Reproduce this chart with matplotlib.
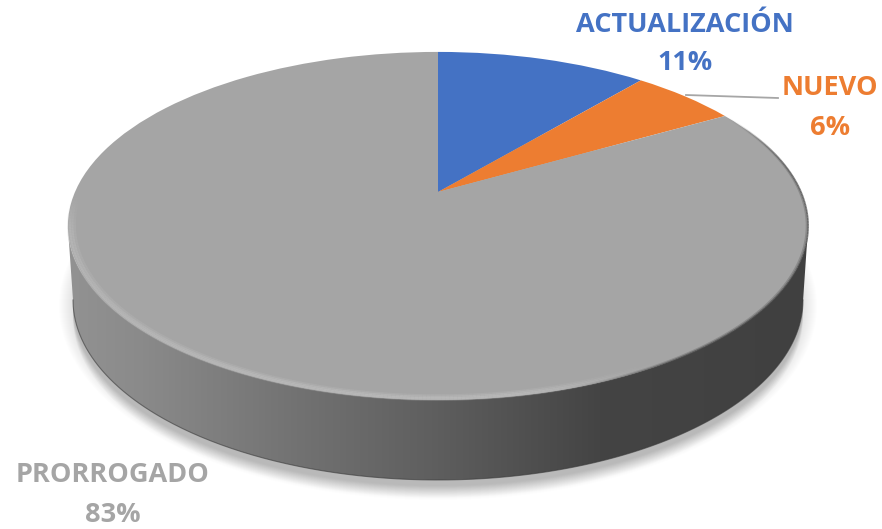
import numpy as np
import matplotlib
matplotlib.use("Agg")
import matplotlib.pyplot as plt
from matplotlib.transforms import Transform
from matplotlib.patches import PathPatch
from matplotlib.path import Path
from matplotlib.collections import LineCollection
from matplotlib.colors import LinearSegmentedColormap

categories = ["ACTUALIZACIÓN", "NUEVO", "PRORROGADO"]
values = [11.1, 5.6, 83.3]
colors = ["#4472C4", "#ED7D31", "#A5A5A5"]

plt.rcParams['font.family'] = ['Open Sans', 'DejaVu Sans']
W, H = 882, 529
fig = plt.figure(figsize=(W / 100, H / 100), dpi=100)
ax = fig.add_axes([0, 0, 1, 1])

# perspective of the pie's top face, in picture coordinates
CX, CY, K, A, B = 438, 192, 0.195, 363, 167.4


class Persp(Transform):
    input_dims = output_dims = 2
    is_separable = False
    has_inverse = False

    def __init__(self, shrink=1.0):
        super().__init__()
        self.s = shrink

    def transform_non_affine(self, pts):
        pts = np.asarray(pts, float) * self.s
        d = 1 + K * pts[:, 1]
        return np.column_stack([CX + A * pts[:, 0] / d, CY - B * pts[:, 1] / d])


def smooth(v, a, b):
    s = np.clip((v - a) / (b - a), 0, 1)
    return s * s * (3 - 2 * s)


t = np.linspace(0, 2 * np.pi, 721)
unit = np.column_stack([np.cos(t), np.sin(t)])
top_edge = Persp().transform_non_affine(unit)

# lower ellipse of the side wall
BX, BY, BA, BB = 438, 300, 365, 180
low = np.column_stack([BX + BA * np.cos(t), BY + BB * np.sin(t)])

# soft shadow
for i in range(1, 15):
    ax.fill(low[:, 0], low[:, 1] + 5 + i * 0.9, color="#000000", alpha=0.012, lw=0, zorder=0)
    ax.fill(BX + (BA + i) * np.cos(t), BY + 6 + (BB + i) * np.sin(t), color="#000000",
            alpha=0.008, lw=0, zorder=0)

# side wall with horizontal gradient
lowpts = low[(t <= np.pi)]
lowpts = lowpts[lowpts[:, 1] >= 236]
upper = top_edge[top_edge[:, 1] >= 226]
upper = upper[np.argsort(upper[:, 0])]
sil = np.vstack([upper, lowpts])
sil_patch = PathPatch(Path(np.vstack([sil, sil[:1]])), fc="none", ec="none", zorder=1)
ax.add_patch(sil_patch)
cmap = LinearSegmentedColormap.from_list("side", [
    (0.00, "#929292"), (0.10, "#8a8a8a"), (0.30, "#737373"), (0.50, "#5e5e5e"),
    (0.72, "#444444"), (1.00, "#404040")])
im = ax.imshow(np.linspace(0, 1, 512)[None, :], cmap=cmap, extent=[68, 808, 490, 220],
               aspect="auto", zorder=1, interpolation="bilinear")
im.set_clip_path(sil_patch)
ax.plot(lowpts[:, 0], lowpts[:, 1], color="#3a3a3a", lw=0.8, alpha=0.6, zorder=1.1)

# top face
wedges, _ = ax.pie(values, startangle=90, counterclock=False, colors=colors,
                   radius=1, center=(0, 0), wedgeprops=dict(lw=0))
for w in wedges:
    w.set_transform(Persp() + ax.transData)
    w.set_zorder(2)
    w.set_clip_on(False)

# bevel on the rim: soft light ring on the lower left, thin dark edge on the right
for shrink, lw, a in [(0.999, 1.6, 0.30), (0.994, 1.6, 0.55), (0.988, 1.6, 0.45), (0.982, 1.6, 0.22)]:
    pts = Persp(shrink).transform_non_affine(unit)
    x, y = pts[:-1, 0], pts[:-1, 1]
    light = smooth(y, 190, 235) * (1 - smooth(x, 500, 680))
    cols = np.zeros((len(x), 4))
    cols[:, :3] = 0.76
    cols[:, 3] = a * light
    segs = np.stack([pts[:-1], pts[1:]], axis=1)
    ax.add_collection(LineCollection(segs, colors=cols, linewidths=lw, zorder=3))

for shrink, lw, a in [(1.0, 1.2, 0.75), (0.996, 1.2, 0.30)]:
    pts = Persp(shrink).transform_non_affine(unit)
    x, y = pts[:-1, 0], pts[:-1, 1]
    dark = smooth(x, 725, 795) * (y < 240) + smooth(x, 560, 700) * (y >= 240)
    cols = np.zeros((len(x), 4))
    cols[:, :3] = 0.30
    cols[:, 3] = a * dark
    segs = np.stack([pts[:-1], pts[1:]], axis=1)
    ax.add_collection(LineCollection(segs, colors=cols, linewidths=lw, zorder=3))

# leader line
ax.plot([686, 778], [95, 98], color="#A6A6A6", lw=1.3, zorder=4)

# labels
label_xy = [(685, 25, 63), (830, 88, 128), (113, 475, 515)]
for cat, val, col, (x, y1, y2) in zip(categories, values, colors, label_xy):
    ax.text(x, y1, cat, color=col, fontsize=19.5, fontweight="bold", ha="center", va="center", zorder=5)
    ax.text(x, y2, f"{val:.0f}%", color=col, fontsize=19.5, fontweight="bold", ha="center", va="center", zorder=5)

ax.set_xlim(0, W)
ax.set_ylim(H, 0)
ax.set_aspect("auto")
ax.axis("off")
fig.savefig("out.png", dpi=100, facecolor="white")
